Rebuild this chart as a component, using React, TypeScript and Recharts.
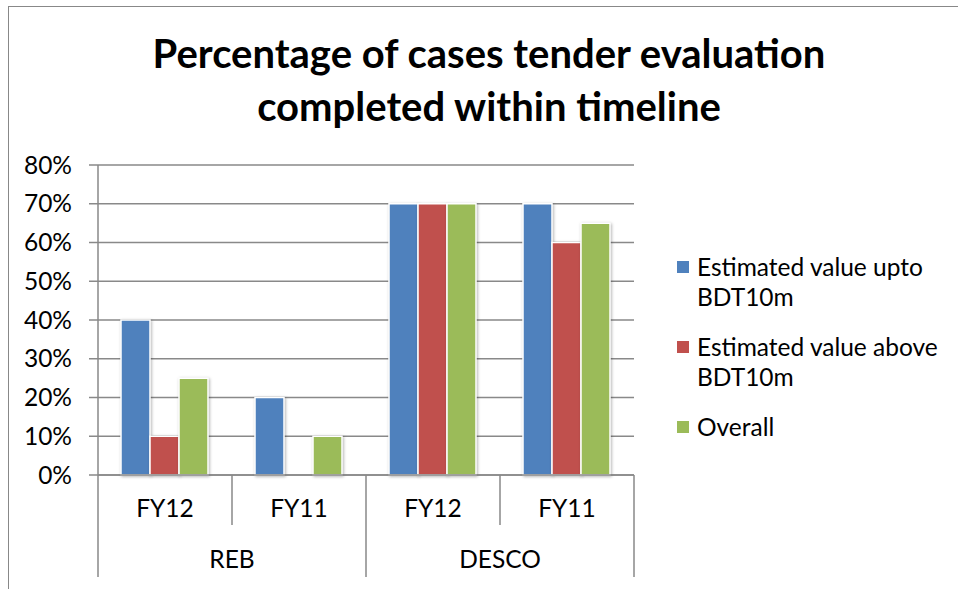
import React from 'react';
import { BarChart, Bar, XAxis, YAxis, CartesianGrid, Legend } from 'recharts';

const periods = ['FY12', 'FY11', 'FY12', 'FY11'];
const groups = ['REB', 'REB', 'DESCO', 'DESCO'];
const uptoValues = [0.4, 0.2, 0.7, 0.7];
const aboveValues = [0.1, 0, 0.7, 0.6];
const overallValues = [0.25, 0.1, 0.7, 0.65];
const yTicks = [0, 0.1, 0.2, 0.3, 0.4, 0.5, 0.6, 0.7, 0.8];

const seriesNames = ['Estimated value upto BDT10m', 'Estimated value above BDT10m', 'Overall'];
const seriesColors = ['#4F81BD', '#C0504D', '#9BBB59'];

const data = periods.map((p, i) => ({
  period: p,
  group: groups[i],
  upto: uptoValues[i],
  above: aboveValues[i],
  overall: overallValues[i],
}));

const FONT = 'Lato, "Open Sans", sans-serif';
const LINE = '#898989';

function PeriodTick(props: any) {
  const { x, y, payload, index, width, visibleTicksCount } = props;
  const half = payload.offset || width / visibleTicksCount / 2;
  const groupStart = index === 0 || groups[index] !== groups[index - 1];
  const last = index === periods.length - 1;
  return (
    <g>
      <line x1={x - half} y1={y} x2={x - half} y2={y + (groupStart ? 102 : 50)} stroke={LINE} strokeWidth={1.5} />
      {last && <line x1={x + half} y1={y} x2={x + half} y2={y + 102} stroke={LINE} strokeWidth={1.5} />}
      <text x={x} y={y + 42} textAnchor="middle" fontSize={24.5} fontFamily={FONT} fill="#000">
        {payload.value}
      </text>
    </g>
  );
}

function GroupTick(props: any) {
  const { x, y, payload } = props;
  return (
    <text x={x} y={y + 41} textAnchor="middle" fontSize={24.5} fontFamily={FONT} fill="#000">
      {payload.value}
    </text>
  );
}

function LegendBox() {
  return (
    <div style={{ fontFamily: FONT, fontSize: 24.5, lineHeight: '30px', color: '#000', width: 270 }}>
      {seriesNames.map((name, i) => (
        <div key={name} style={{ display: 'flex', alignItems: 'flex-start', marginBottom: i === 2 ? 0 : 20 }}>
          <span style={{ width: 12, height: 12, background: seriesColors[i], marginTop: 9, marginRight: 8, flexShrink: 0 }} />
          <span>{name}</span>
        </div>
      ))}
    </div>
  );
}

export default function App() {
  return (
    <div style={{ position: 'absolute', left: 0, top: 0, width: 958, height: 589, overflow: 'hidden', background: '#fff' }}>
      <style>{`.recharts-bar-rectangle path { filter: drop-shadow(1px 1px 1.5px rgba(0,0,0,0.3)); }`}</style>
      <div style={{ position: 'absolute', left: 8, top: 6, width: 1100, height: 800, border: '1.5px solid #888' }} />
      <div
        style={{
          position: 'absolute', left: 0, top: 27, width: 978, textAlign: 'center',
          fontFamily: FONT, fontWeight: 700, fontSize: 40, lineHeight: '53px', color: '#000',
        }}
      >
        Percentage of cases tender evaluation
        <br />
        completed within timeline
      </div>
      <div style={{ position: 'absolute', left: 0, top: 0 }}>
        <BarChart
          width={958}
          height={589}
          data={data}
          margin={{ top: 165, right: 324, bottom: 12, left: 0 }}
          barCategoryGap={23}
          barGap={0}
        >
          <CartesianGrid vertical={false} stroke={LINE} strokeWidth={1.5} />
          <YAxis
            width={98}
            domain={[0, 0.8]}
            ticks={yTicks}
            interval={0}
            tickFormatter={(v: number) => `${Math.round(v * 100)}%`}
            axisLine={{ stroke: LINE, strokeWidth: 1.5 }}
            tickLine={{ stroke: LINE, strokeWidth: 1.5 }}
            tickSize={9}
            tickMargin={17}
            tick={{ fontSize: 24.5, fontFamily: FONT, fill: '#000' }}
          />
          <XAxis
            dataKey="period"
            interval={0}
            height={52}
            tickSize={0}
            tickMargin={0}
            axisLine={{ stroke: LINE, strokeWidth: 1.5 }}
            tick={<PeriodTick />}
          />
          <XAxis
            xAxisId="grp"
            dataKey="group"
            allowDuplicatedCategory={false}
            interval={0}
            height={50}
            tickSize={0}
            tickMargin={0}
            axisLine={false}
            tickLine={false}
            tick={<GroupTick />}
          />
          <Legend
            layout="horizontal"
            align="center"
            verticalAlign="middle"
            wrapperStyle={{ left: 677, top: 252, width: 275 }}
            content={() => <LegendBox />}
          />
          <Bar dataKey="upto" name={seriesNames[0]} fill={seriesColors[0]} stroke="#fff" strokeWidth={1.5} isAnimationActive={false} />
          <Bar dataKey="above" name={seriesNames[1]} fill={seriesColors[1]} stroke="#fff" strokeWidth={1.5} isAnimationActive={false} />
          <Bar dataKey="overall" name={seriesNames[2]} fill={seriesColors[2]} stroke="#fff" strokeWidth={1.5} isAnimationActive={false} />
        </BarChart>
      </div>
    </div>
  );
}
